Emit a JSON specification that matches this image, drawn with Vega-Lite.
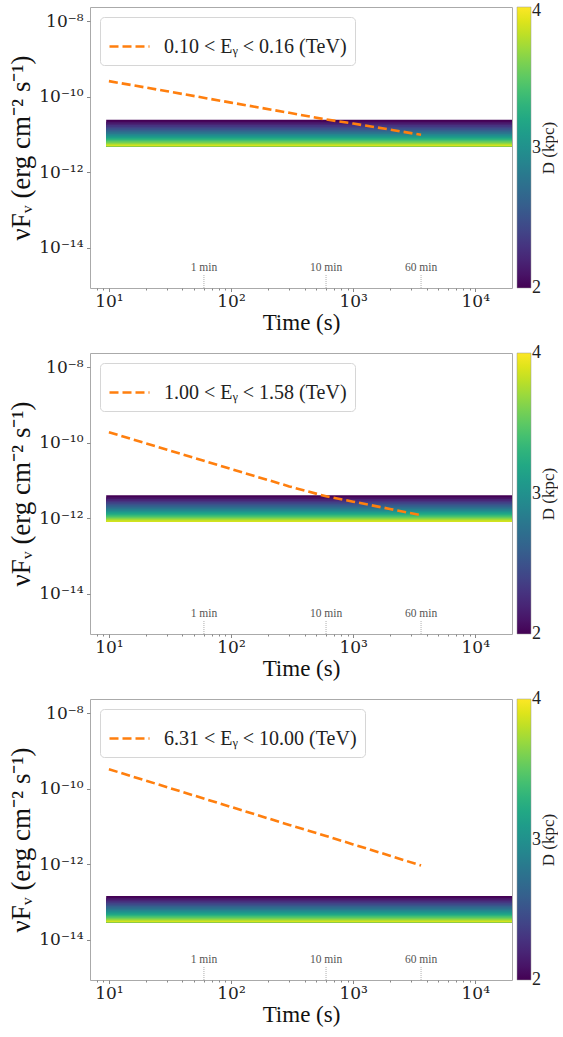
{
  "$schema": "https://vega.github.io/schema/vega-lite/v6.json",
  "background": "white",
  "padding": {"left": 7, "top": 6, "right": 0, "bottom": 0},
  "spacing": 17,
  "config": {
    "view": {"stroke": "#aaaaaa", "strokeWidth": 1},
    "font": "Liberation Serif",
    "axis": {"labelFont": "DejaVu Serif", "titleFont": "Liberation Serif", "labelColor": "#222", "titleColor": "#111", "tickColor": "#888", "domain": false, "grid": false, "titleFontWeight": "normal"}
  },
  "datasets": {
    "band1": [
      {"D": 2.0, "F": 2.455e-11}, {"D": 2.1, "F": 2.191e-11}, {"D": 2.2, "F": 1.967e-11}, {"D": 2.3, "F": 1.774e-11},
      {"D": 2.4, "F": 1.606e-11}, {"D": 2.5, "F": 1.461e-11}, {"D": 2.6, "F": 1.334e-11}, {"D": 2.7, "F": 1.221e-11},
      {"D": 2.8, "F": 1.123e-11}, {"D": 2.9, "F": 1.034e-11}, {"D": 3.0, "F": 9.56e-12}, {"D": 3.1, "F": 8.86e-12},
      {"D": 3.2, "F": 8.23e-12}, {"D": 3.3, "F": 7.66e-12}, {"D": 3.4, "F": 7.15e-12}, {"D": 3.5, "F": 6.68e-12},
      {"D": 3.6, "F": 6.26e-12}, {"D": 3.7, "F": 5.87e-12}, {"D": 3.8, "F": 5.52e-12}, {"D": 3.9, "F": 5.19e-12}
    ],
    "band2": [
      {"D": 2.0, "F": 4.03e-12}, {"D": 2.1, "F": 3.597e-12}, {"D": 2.2, "F": 3.229e-12}, {"D": 2.3, "F": 2.912e-12},
      {"D": 2.4, "F": 2.637e-12}, {"D": 2.5, "F": 2.399e-12}, {"D": 2.6, "F": 2.19e-12}, {"D": 2.7, "F": 2.005e-12},
      {"D": 2.8, "F": 1.843e-12}, {"D": 2.9, "F": 1.698e-12}, {"D": 3.0, "F": 1.57e-12}, {"D": 3.1, "F": 1.454e-12},
      {"D": 3.2, "F": 1.35e-12}, {"D": 3.3, "F": 1.257e-12}, {"D": 3.4, "F": 1.173e-12}, {"D": 3.5, "F": 1.097e-12},
      {"D": 3.6, "F": 1.027e-12}, {"D": 3.7, "F": 9.64e-13}, {"D": 3.8, "F": 9.06e-13}, {"D": 3.9, "F": 8.53e-13}
    ],
    "band3": [
      {"D": 2.0, "F": 1.445e-13}, {"D": 2.1, "F": 1.29e-13}, {"D": 2.2, "F": 1.158e-13}, {"D": 2.3, "F": 1.044e-13},
      {"D": 2.4, "F": 9.45e-14}, {"D": 2.5, "F": 8.6e-14}, {"D": 2.6, "F": 7.85e-14}, {"D": 2.7, "F": 7.19e-14},
      {"D": 2.8, "F": 6.61e-14}, {"D": 2.9, "F": 6.09e-14}, {"D": 3.0, "F": 5.63e-14}, {"D": 3.1, "F": 5.21e-14},
      {"D": 3.2, "F": 4.84e-14}, {"D": 3.3, "F": 4.51e-14}, {"D": 3.4, "F": 4.21e-14}, {"D": 3.5, "F": 3.93e-14},
      {"D": 3.6, "F": 3.68e-14}, {"D": 3.7, "F": 3.46e-14}, {"D": 3.8, "F": 3.25e-14}, {"D": 3.9, "F": 3.06e-14}
    ],
    "line1": [
      {"t": 10, "F": 2.6e-10}, {"t": 30, "F": 1.4e-10}, {"t": 100, "F": 7.0e-11}, {"t": 300, "F": 3.76e-11},
      {"t": 600, "F": 2.5e-11}, {"t": 1000, "F": 1.95e-11}, {"t": 2000, "F": 1.35e-11}, {"t": 3600, "F": 9.8e-12}
    ],
    "line2": [
      {"t": 10, "F": 1.9e-10}, {"t": 30, "F": 6.5e-11}, {"t": 100, "F": 2.02e-11}, {"t": 300, "F": 6.97e-12},
      {"t": 600, "F": 3.8e-12}, {"t": 1000, "F": 2.74e-12}, {"t": 2000, "F": 1.76e-12}, {"t": 3600, "F": 1.2e-12}
    ],
    "line3": [
      {"t": 10, "F": 3.3e-10}, {"t": 30, "F": 1.1e-10}, {"t": 100, "F": 3.3e-11}, {"t": 300, "F": 1.1e-11},
      {"t": 600, "F": 5.6e-12}, {"t": 1000, "F": 3.35e-12}, {"t": 2000, "F": 1.68e-12}, {"t": 3600, "F": 9.2e-13}
    ],
    "marks": [
      {"t": 60, "label": "1 min"}, {"t": 600, "label": "10 min"}, {"t": 3600, "label": "60 min"}
    ]
  },
  "resolve": {"scale": {"fill": "independent", "stroke": "independent"}, "legend": {"fill": "independent", "stroke": "independent"}},
  "vconcat": [
    {
      "width": 422, "height": 281,
      "resolve": {"axis": {"x": "independent", "y": "independent"}},
      "layer": [
        {
          "data": {"name": "band1"},
          "mark": {"type": "rect"},
          "encoding": {
            "x": {"datum": 9.5, "type": "quantitative", "scale": {"type": "log", "domain": [7, 20000], "nice": false},
              "axis": {"orient": "bottom", "values": [8, 9, 20, 30, 40, 50, 60, 70, 80, 90, 200, 300, 400, 500, 600, 700, 800, 900, 2000, 3000, 4000, 5000, 6000, 7000, 8000, 9000], "labels": false, "tickSize": 2, "title": null}},
            "x2": {"datum": 20000},
            "y": {"field": "F", "type": "quantitative", "scale": {"type": "log", "domain": [8.5e-16, 2.4e-8], "nice": false},
              "axis": {"orient": "left", "values": [1e-14, 1e-12, 1e-10, 1e-8], "labelExpr": "datum.value < 5e-14 ? '10⁻¹⁴' : datum.value < 5e-12 ? '10⁻¹²' : datum.value < 5e-10 ? '10⁻¹⁰' : '10⁻⁸'", "tickSize": 3.5, "labelFontSize": 17, "labelPadding": 3.5, "title": "νFᵥ (erg cm⁻² s⁻¹)", "titleFontSize": 27, "titlePadding": 3}},
            "y2": {"datum": 4.9e-12},
            "fill": {"field": "D", "type": "quantitative", "scale": {"scheme": "viridis", "domain": [2, 4]},
              "legend": {"orient": "none", "legendX": 427, "legendY": 0, "direction": "vertical", "padding": 0, "gradientLength": 281, "gradientThickness": 14, "gradientStrokeColor": "#999", "gradientStrokeWidth": 0.5, "values": [2, 3, 4], "format": ".0f", "title": "D (kpc)", "titleOrient": "right", "titlePadding": 0, "titleFont": "Liberation Serif", "titleFontSize": 17, "titleFontWeight": "normal", "titleColor": "#222", "labelFont": "Liberation Serif", "labelFontSize": 18, "labelColor": "#222", "labelOffset": 1, "labelOverlap": false,
                "encode": {"title": {"update": {"angle": {"value": -90}, "baseline": {"value": "top"}}}, "labels": {"update": {"baseline": {"value": "middle"}, "dy": {"signal": "datum.value >= 4 ? 4 : 0"}}}}}}
          }
        },
        {
          "data": {"name": "line1"},
          "mark": {"type": "line", "strokeDash": [9, 4], "strokeWidth": 2.6},
          "encoding": {
            "x": {"field": "t", "type": "quantitative", "axis": {"orient": "bottom", "values": [10, 100, 1000, 10000], "labelExpr": "datum.value == 10 ? '10¹' : datum.value == 100 ? '10²' : datum.value == 1000 ? '10³' : '10⁴'", "tickSize": 3.5, "labelFontSize": 17, "labelPadding": 2, "title": "Time (s)", "titleFontSize": 23, "titlePadding": 2}},
            "y": {"field": "F", "type": "quantitative", "axis": null},
            "stroke": {"datum": "0.10 < Eᵧ < 0.16 (TeV)", "type": "nominal", "scale": {"range": ["#ff7f0e"]},
              "legend": {"orient": "top-left", "offset": 10, "title": null, "fillColor": "white", "strokeColor": "#d6d6d6", "cornerRadius": 4, "padding": 8, "symbolType": "stroke", "symbolSize": 1600, "symbolStrokeWidth": 2.6, "symbolDash": [9, 4], "labelFont": "Liberation Serif", "labelFontSize": 20, "labelColor": "#222", "labelOffset": 13, "labelLimit": 400}}
          }
        },
        {
          "data": {"name": "marks"},
          "mark": {"type": "rule", "strokeDash": [1, 1], "color": "#999", "strokeWidth": 0.8},
          "encoding": {
            "x": {"field": "t", "type": "quantitative", "axis": null},
            "y": {"datum": 8.5e-16, "type": "quantitative", "axis": null},
            "y2": {"datum": 1.9e-15}
          }
        },
        {
          "data": {"name": "marks"},
          "mark": {"type": "text", "font": "Liberation Serif", "fontSize": 11.5, "color": "#555", "align": "center", "baseline": "alphabetic"},
          "encoding": {
            "x": {"field": "t", "type": "quantitative", "axis": null},
            "y": {"datum": 2.35e-15, "type": "quantitative", "axis": null},
            "text": {"field": "label"}
          }
        }
      ]
    },
    {
      "width": 422, "height": 281,
      "resolve": {"axis": {"x": "independent", "y": "independent"}},
      "layer": [
        {
          "data": {"name": "band2"},
          "mark": {"type": "rect"},
          "encoding": {
            "x": {"datum": 9.5, "type": "quantitative", "scale": {"type": "log", "domain": [7, 20000], "nice": false},
              "axis": {"orient": "bottom", "values": [8, 9, 20, 30, 40, 50, 60, 70, 80, 90, 200, 300, 400, 500, 600, 700, 800, 900, 2000, 3000, 4000, 5000, 6000, 7000, 8000, 9000], "labels": false, "tickSize": 2, "title": null}},
            "x2": {"datum": 20000},
            "y": {"field": "F", "type": "quantitative", "scale": {"type": "log", "domain": [8.5e-16, 2.4e-8], "nice": false},
              "axis": {"orient": "left", "values": [1e-14, 1e-12, 1e-10, 1e-8], "labelExpr": "datum.value < 5e-14 ? '10⁻¹⁴' : datum.value < 5e-12 ? '10⁻¹²' : datum.value < 5e-10 ? '10⁻¹⁰' : '10⁻⁸'", "tickSize": 3.5, "labelFontSize": 17, "labelPadding": 3.5, "title": "νFᵥ (erg cm⁻² s⁻¹)", "titleFontSize": 27, "titlePadding": 3}},
            "y2": {"datum": 8.04e-13},
            "fill": {"field": "D", "type": "quantitative", "scale": {"scheme": "viridis", "domain": [2, 4]},
              "legend": {"orient": "none", "legendX": 427, "legendY": 0, "direction": "vertical", "padding": 0, "gradientLength": 281, "gradientThickness": 14, "gradientStrokeColor": "#999", "gradientStrokeWidth": 0.5, "values": [2, 3, 4], "format": ".0f", "title": "D (kpc)", "titleOrient": "right", "titlePadding": 0, "titleFont": "Liberation Serif", "titleFontSize": 17, "titleFontWeight": "normal", "titleColor": "#222", "labelFont": "Liberation Serif", "labelFontSize": 18, "labelColor": "#222", "labelOffset": 1, "labelOverlap": false,
                "encode": {"title": {"update": {"angle": {"value": -90}, "baseline": {"value": "top"}}}, "labels": {"update": {"baseline": {"value": "middle"}}}}}}
          }
        },
        {
          "data": {"name": "line2"},
          "mark": {"type": "line", "strokeDash": [9, 4], "strokeWidth": 2.6},
          "encoding": {
            "x": {"field": "t", "type": "quantitative", "axis": {"orient": "bottom", "values": [10, 100, 1000, 10000], "labelExpr": "datum.value == 10 ? '10¹' : datum.value == 100 ? '10²' : datum.value == 1000 ? '10³' : '10⁴'", "tickSize": 3.5, "labelFontSize": 17, "labelPadding": 2, "title": "Time (s)", "titleFontSize": 23, "titlePadding": 2}},
            "y": {"field": "F", "type": "quantitative", "axis": null},
            "stroke": {"datum": "1.00 < Eᵧ < 1.58 (TeV)", "type": "nominal", "scale": {"range": ["#ff7f0e"]},
              "legend": {"orient": "top-left", "offset": 10, "title": null, "fillColor": "white", "strokeColor": "#d6d6d6", "cornerRadius": 4, "padding": 8, "symbolType": "stroke", "symbolSize": 1600, "symbolStrokeWidth": 2.6, "symbolDash": [9, 4], "labelFont": "Liberation Serif", "labelFontSize": 20, "labelColor": "#222", "labelOffset": 13, "labelLimit": 400}}
          }
        },
        {
          "data": {"name": "marks"},
          "mark": {"type": "rule", "strokeDash": [1, 1], "color": "#999", "strokeWidth": 0.8},
          "encoding": {
            "x": {"field": "t", "type": "quantitative", "axis": null},
            "y": {"datum": 8.5e-16, "type": "quantitative", "axis": null},
            "y2": {"datum": 1.9e-15}
          }
        },
        {
          "data": {"name": "marks"},
          "mark": {"type": "text", "font": "Liberation Serif", "fontSize": 11.5, "color": "#555", "align": "center", "baseline": "alphabetic"},
          "encoding": {
            "x": {"field": "t", "type": "quantitative", "axis": null},
            "y": {"datum": 2.35e-15, "type": "quantitative", "axis": null},
            "text": {"field": "label"}
          }
        }
      ]
    },
    {
      "width": 422, "height": 281,
      "resolve": {"axis": {"x": "independent", "y": "independent"}},
      "layer": [
        {
          "data": {"name": "band3"},
          "mark": {"type": "rect"},
          "encoding": {
            "x": {"datum": 9.5, "type": "quantitative", "scale": {"type": "log", "domain": [7, 20000], "nice": false},
              "axis": {"orient": "bottom", "values": [8, 9, 20, 30, 40, 50, 60, 70, 80, 90, 200, 300, 400, 500, 600, 700, 800, 900, 2000, 3000, 4000, 5000, 6000, 7000, 8000, 9000], "labels": false, "tickSize": 2, "title": null}},
            "x2": {"datum": 20000},
            "y": {"field": "F", "type": "quantitative", "scale": {"type": "log", "domain": [8.5e-16, 2.4e-8], "nice": false},
              "axis": {"orient": "left", "values": [1e-14, 1e-12, 1e-10, 1e-8], "labelExpr": "datum.value < 5e-14 ? '10⁻¹⁴' : datum.value < 5e-12 ? '10⁻¹²' : datum.value < 5e-10 ? '10⁻¹⁰' : '10⁻⁸'", "tickSize": 3.5, "labelFontSize": 17, "labelPadding": 3.5, "title": "νFᵥ (erg cm⁻² s⁻¹)", "titleFontSize": 27, "titlePadding": 3}},
            "y2": {"datum": 2.88e-14},
            "fill": {"field": "D", "type": "quantitative", "scale": {"scheme": "viridis", "domain": [2, 4]},
              "legend": {"orient": "none", "legendX": 427, "legendY": 0, "direction": "vertical", "padding": 0, "gradientLength": 281, "gradientThickness": 14, "gradientStrokeColor": "#999", "gradientStrokeWidth": 0.5, "values": [2, 3, 4], "format": ".0f", "title": "D (kpc)", "titleOrient": "right", "titlePadding": 0, "titleFont": "Liberation Serif", "titleFontSize": 17, "titleFontWeight": "normal", "titleColor": "#222", "labelFont": "Liberation Serif", "labelFontSize": 18, "labelColor": "#222", "labelOffset": 1, "labelOverlap": false,
                "encode": {"title": {"update": {"angle": {"value": -90}, "baseline": {"value": "top"}}}, "labels": {"update": {"baseline": {"value": "middle"}}}}}}
          }
        },
        {
          "data": {"name": "line3"},
          "mark": {"type": "line", "strokeDash": [9, 4], "strokeWidth": 2.6},
          "encoding": {
            "x": {"field": "t", "type": "quantitative", "axis": {"orient": "bottom", "values": [10, 100, 1000, 10000], "labelExpr": "datum.value == 10 ? '10¹' : datum.value == 100 ? '10²' : datum.value == 1000 ? '10³' : '10⁴'", "tickSize": 3.5, "labelFontSize": 17, "labelPadding": 2, "title": "Time (s)", "titleFontSize": 23, "titlePadding": 2}},
            "y": {"field": "F", "type": "quantitative", "axis": null},
            "stroke": {"datum": "6.31 < Eᵧ < 10.00 (TeV)", "type": "nominal", "scale": {"range": ["#ff7f0e"]},
              "legend": {"orient": "top-left", "offset": 10, "title": null, "fillColor": "white", "strokeColor": "#d6d6d6", "cornerRadius": 4, "padding": 8, "symbolType": "stroke", "symbolSize": 1600, "symbolStrokeWidth": 2.6, "symbolDash": [9, 4], "labelFont": "Liberation Serif", "labelFontSize": 20, "labelColor": "#222", "labelOffset": 13, "labelLimit": 400}}
          }
        },
        {
          "data": {"name": "marks"},
          "mark": {"type": "rule", "strokeDash": [1, 1], "color": "#999", "strokeWidth": 0.8},
          "encoding": {
            "x": {"field": "t", "type": "quantitative", "axis": null},
            "y": {"datum": 8.5e-16, "type": "quantitative", "axis": null},
            "y2": {"datum": 1.9e-15}
          }
        },
        {
          "data": {"name": "marks"},
          "mark": {"type": "text", "font": "Liberation Serif", "fontSize": 11.5, "color": "#555", "align": "center", "baseline": "alphabetic"},
          "encoding": {
            "x": {"field": "t", "type": "quantitative", "axis": null},
            "y": {"datum": 2.35e-15, "type": "quantitative", "axis": null},
            "text": {"field": "label"}
          }
        }
      ]
    }
  ]
}
